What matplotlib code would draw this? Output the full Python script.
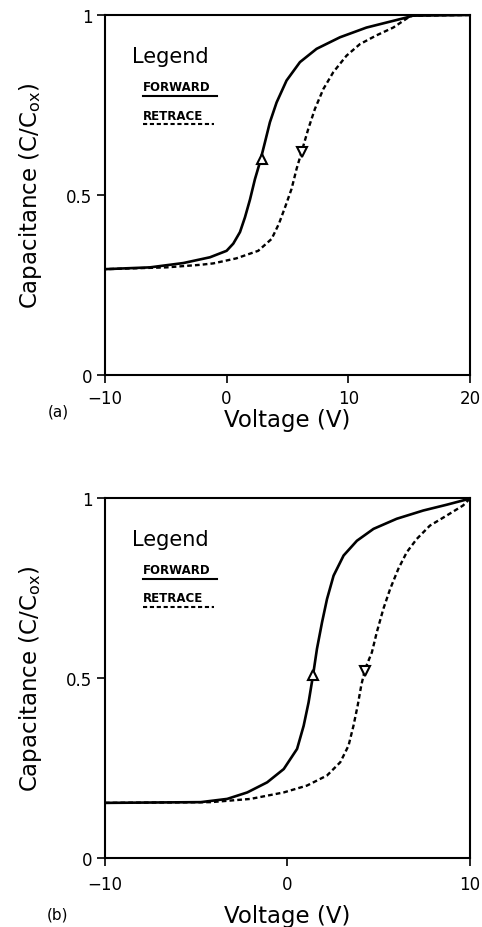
import matplotlib
matplotlib.use("Agg")
import matplotlib.pyplot as plt
from matplotlib.lines import Line2D

plt.rcParams['font.family'] = ['DejaVu Sans']

# ---- Panel (a) data ----
a_fwd_v = [-10, -6.3, -3.56, -1.37, 0.0, 0.55, 1.10, 1.51, 1.92, 2.33, 2.74, 3.15, 3.56, 4.11,
           4.93, 6.03, 7.40, 9.32, 11.5, 13.15, 14.8, 15.3, 20]
a_fwd_c = [0.294, 0.299, 0.311, 0.327, 0.345, 0.365, 0.397, 0.438, 0.487, 0.544, 0.591, 0.646, 0.702, 0.757,
           0.818, 0.869, 0.906, 0.938, 0.965, 0.979, 0.993, 0.998, 1.0]
a_ret_v = [20, 15.3, 15.07, 13.7, 12.3, 10.96, 9.86, 8.77, 7.95, 7.26, 6.71, 6.16, 5.75, 5.34, 4.85,
           4.3, 3.7, 2.6, 0.8, -1.1, -2.19, -4.93, -10]
a_ret_c = [1.0, 0.998, 0.996, 0.965, 0.943, 0.919, 0.887, 0.841, 0.794, 0.739, 0.683, 0.619, 0.572, 0.517, 0.47,
           0.42, 0.378, 0.345, 0.324, 0.31, 0.306, 0.299, 0.294]
a_fwd_arrow = (2.9, 0.60)
a_ret_arrow = (6.2, 0.62)
a_xticks = [-10, 0, 10, 20]

# ---- Panel (b) data ----
b_fwd_v = [-10, -4.75, -3.3, -2.2, -1.11, -0.2, 0.53, 0.89, 1.16, 1.40, 1.62, 1.90, 2.17, 2.53,
           3.08, 3.81, 4.72, 5.99, 7.45, 8.73, 9.63, 10]
b_fwd_c = [0.153, 0.155, 0.164, 0.182, 0.21, 0.247, 0.303, 0.367, 0.432, 0.506, 0.581, 0.655, 0.719, 0.784,
           0.84, 0.881, 0.914, 0.942, 0.965, 0.981, 0.993, 0.998]
b_ret_v = [10, 9.63, 8.73, 7.81, 7.09, 6.54, 6.08, 5.63, 5.26, 4.90, 4.63, 4.26, 4.05, 3.85, 3.62,
           3.35, 2.90, 2.17, 1.07, -0.2, -2.02, -4.2, -10]
b_ret_c = [0.998, 0.979, 0.951, 0.923, 0.886, 0.849, 0.803, 0.747, 0.692, 0.627, 0.571, 0.525, 0.48, 0.423, 0.367,
           0.312, 0.266, 0.229, 0.201, 0.182, 0.164, 0.155, 0.153]
b_fwd_arrow = (1.38, 0.507)
b_ret_arrow = (4.26, 0.52)
b_xticks = [-10, 0, 10]

yticks = [0, 0.5, 1]
ytick_labels = ['0', '0.5', '1']
legend_labels = ['FORWARD', 'RETRACE']

fig = plt.figure(figsize=(4.82, 9.28), dpi=100)
ax1 = fig.add_axes([0.2178, 0.5948, 0.757, 0.388])
ax2 = fig.add_axes([0.2178, 0.0744, 0.757, 0.388])

panels = [
    (ax1, a_fwd_v, a_fwd_c, a_ret_v, a_ret_c, a_fwd_arrow, a_ret_arrow, a_xticks, '(a)', 4, 1, -0.10),
    (ax2, b_fwd_v, b_fwd_c, b_ret_v, b_ret_c, b_fwd_arrow, b_ret_arrow, b_xticks, '(b)', 6, 8, -0.155),
]

dash = (0, (2.0, 1.3))
for ax, fv, fc, rv, rc, fa, ra, xt, tag, xtpad, xlpad, tagy in panels:
    ax.plot(fv, fc, color='black', lw=1.9, solid_capstyle='round', solid_joinstyle='round')
    ax.plot(rv, rc, color='black', lw=1.7, ls=dash)
    ax.plot([fa[0]], [fa[1]], marker='^', ms=7, mfc='white', mec='black', mew=1.5)
    ax.plot([ra[0]], [ra[1]], marker='v', ms=7, mfc='white', mec='black', mew=1.5)
    ax.set_xlim(xt[0], xt[-1])
    ax.set_ylim(0, 1)
    ax.set_xticks(xt)
    ax.set_xticklabels(['\u2212' + str(abs(v)) if v < 0 else str(v) for v in xt])
    ax.set_yticks(yticks)
    ax.set_yticklabels(ytick_labels)
    ax.tick_params(direction='out', length=6, width=1.2, labelsize=12, pad=3, colors='black')
    ax.tick_params(axis='x', pad=xtpad)
    for s in ax.spines.values():
        s.set_linewidth(1.5)
        s.set_color('black')
    ax.set_xlabel('Voltage (V)', fontsize=16.5, labelpad=xlpad)
    ax.set_ylabel('Capacitance (C/C$_{\\mathrm{ox}}$)', fontsize=16.5, labelpad=16)
    ax.text(-0.129, tagy, tag, transform=ax.transAxes, fontsize=11, ha='center', va='center')
    # legend block
    ax.text(0.074, 0.886, 'Legend', transform=ax.transAxes, fontsize=15, ha='left', va='center')
    ax.text(0.104, 0.80, legend_labels[0], transform=ax.transAxes, fontsize=8.5, fontweight='bold',
            ha='left', va='center')
    ax.add_line(Line2D([0.104, 0.307], [0.775, 0.775], transform=ax.transAxes,
                       color='black', lw=1.5))
    ax.text(0.104, 0.722, legend_labels[1], transform=ax.transAxes, fontsize=8.5, fontweight='bold',
            ha='left', va='center')
    ax.add_line(Line2D([0.104, 0.30], [0.698, 0.698], transform=ax.transAxes,
                       color='black', lw=1.5, ls=dash))

fig.savefig('out.png', dpi=100)
